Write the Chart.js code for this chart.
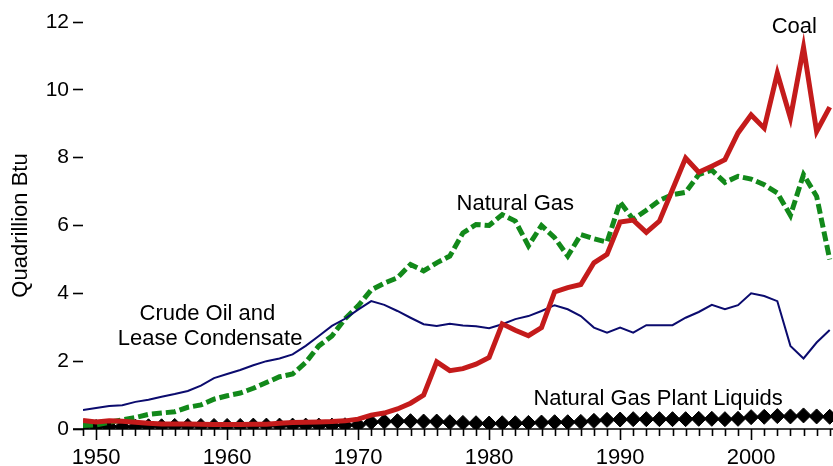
<!DOCTYPE html>
<html>
<head>
<meta charset="utf-8">
<script src="https://cdn.jsdelivr.net/npm/chart.js@4.4.0/dist/chart.umd.min.js"></script>
<style>
  html, body { margin: 0; padding: 0; background: #fff; }
</style>
</head>
<body>
<canvas id="chart" width="833" height="466"></canvas>
<script>
// years on the x axis
const years = [1949, 1950, 1951, 1952, 1953, 1954, 1955, 1956, 1957, 1958, 1959,
  1960, 1961, 1962, 1963, 1964, 1965, 1966, 1967, 1968, 1969,
  1970, 1971, 1972, 1973, 1974, 1975, 1976, 1977, 1978, 1979,
  1980, 1981, 1982, 1983, 1984, 1985, 1986, 1987, 1988, 1989,
  1990, 1991, 1992, 1993, 1994, 1995, 1996, 1997, 1998, 1999,
  2000, 2001, 2002, 2003, 2004, 2005, 2006];

// production, quadrillion Btu
const coal = [0.25, 0.21, 0.24, 0.23, 0.20, 0.17, 0.15, 0.15, 0.15, 0.14, 0.13,
  0.13, 0.13, 0.14, 0.14, 0.17, 0.19, 0.20, 0.21, 0.22, 0.24,
  0.29, 0.41, 0.47, 0.59, 0.76, 1.00, 1.98, 1.72, 1.78, 1.91,
  2.11, 3.10, 2.91, 2.75, 2.99, 4.04, 4.17, 4.26, 4.90, 5.15,
  6.10, 6.16, 5.80, 6.13, 7.06, 7.99, 7.57, 7.75, 7.94, 8.73,
  9.26, 8.87, 10.49, 9.17, 11.25, 8.77, 9.49];

const naturalGas = [0.10, 0.12, 0.20, 0.27, 0.34, 0.43, 0.47, 0.51, 0.64, 0.71, 0.88,
  0.98, 1.06, 1.20, 1.37, 1.54, 1.62, 1.96, 2.45, 2.74, 3.25,
  3.63, 4.10, 4.30, 4.46, 4.85, 4.66, 4.90, 5.10, 5.78, 6.03,
  6.00, 6.32, 6.13, 5.40, 6.00, 5.64, 5.10, 5.73, 5.61, 5.51,
  6.69, 6.18, 6.45, 6.74, 6.91, 6.98, 7.50, 7.63, 7.27, 7.45,
  7.37, 7.20, 6.96, 6.30, 7.50, 6.86, 5.00];

const crudeOil = [0.56, 0.62, 0.68, 0.70, 0.80, 0.86, 0.95, 1.03, 1.12, 1.28, 1.50,
  1.62, 1.74, 1.88, 2.00, 2.08, 2.20, 2.45, 2.74, 3.04, 3.25,
  3.52, 3.77, 3.66, 3.48, 3.28, 3.09, 3.04, 3.10, 3.05, 3.03,
  2.97, 3.09, 3.24, 3.33, 3.48, 3.65, 3.53, 3.33, 2.99, 2.84,
  2.99, 2.84, 3.06, 3.06, 3.06, 3.28, 3.45, 3.66, 3.53, 3.65,
  4.00, 3.92, 3.77, 2.45, 2.08, 2.55, 2.92];

const plantLiquids = [0.06, 0.06, 0.07, 0.07, 0.07, 0.08, 0.08, 0.09, 0.09, 0.09, 0.09,
  0.09, 0.09, 0.10, 0.10, 0.10, 0.10, 0.10, 0.10, 0.10, 0.11,
  0.12, 0.20, 0.22, 0.23, 0.23, 0.22, 0.22, 0.20, 0.18, 0.17,
  0.16, 0.17, 0.17, 0.18, 0.19, 0.20, 0.20, 0.21, 0.24, 0.27,
  0.28, 0.29, 0.29, 0.29, 0.29, 0.29, 0.30, 0.30, 0.29, 0.30,
  0.35, 0.36, 0.38, 0.37, 0.40, 0.37, 0.36];

const yTicks = [0, 2, 4, 6, 8, 10, 12];

const FONT = "'Liberation Sans', Arial, Helvetica, sans-serif";

const toPoints = (vals) => years.map((yr, i) => ({ x: yr, y: vals[i] }));

// series name labels, placed in data coordinates (text centre x, baseline y)
const seriesLabels = [
  { text: 'Coal', x: 2003.3, y: 11.67 },
  { text: 'Natural Gas', x: 1982.0, y: 6.46 },
  { text: 'Crude Oil and', x: 1958.5, y: 3.21 },
  { text: 'Lease Condensate', x: 1958.7, y: 2.48 },
  { text: 'Natural Gas Plant Liquids', x: 1992.9, y: 0.71 }
];

// draws the bottom axis line, year ticks and the series labels
const decorations = {
  id: 'decorations',
  afterDatasetsDraw(chart) {
    const { ctx, chartArea, scales } = chart;
    const xs = scales.x, ys = scales.y;
    ctx.save();
    ctx.strokeStyle = '#000';
    ctx.lineWidth = 1.6;
    ctx.beginPath();
    ctx.moveTo(chartArea.left - 10, chartArea.bottom);
    ctx.lineTo(chartArea.right, chartArea.bottom);
    ctx.stroke();
    years.forEach((yr) => {
      const px = Math.round(xs.getPixelForValue(yr)) + 0.5;
      const len = yr % 10 === 0 ? 11 : 7;
      ctx.beginPath();
      ctx.moveTo(px, chartArea.bottom);
      ctx.lineTo(px, chartArea.bottom + len);
      ctx.stroke();
    });
    ctx.fillStyle = '#000';
    ctx.font = '22px ' + FONT;
    ctx.textAlign = 'center';
    ctx.textBaseline = 'alphabetic';
    seriesLabels.forEach((l) => {
      ctx.fillText(l.text, xs.getPixelForValue(l.x), ys.getPixelForValue(l.y));
    });
    ctx.restore();
  }
};

new Chart(document.getElementById('chart'), {
  type: 'line',
  data: {
    datasets: [
      {
        label: 'Coal',
        data: toPoints(coal),
        borderColor: '#c41b1b',
        borderWidth: 5,
        pointRadius: 0,
        clip: 0
      },
      {
        label: 'Crude Oil and Lease Condensate',
        data: toPoints(crudeOil),
        borderColor: '#0b0b6e',
        borderWidth: 2,
        pointRadius: 0,
        clip: 0
      },
      {
        label: 'Natural Gas',
        data: toPoints(naturalGas),
        borderColor: '#12891a',
        borderWidth: 5,
        borderDash: [10, 4],
        pointRadius: 0,
        clip: 0
      },
      {
        label: 'Natural Gas Plant Liquids',
        data: toPoints(plantLiquids),
        borderColor: '#000',
        borderWidth: 2,
        pointStyle: 'rectRot',
        pointRadius: 7.5,
        pointBackgroundColor: '#000',
        pointBorderColor: '#000',
        pointBorderWidth: 1,
        clip: 0
      }
    ]
  },
  options: {
    responsive: false,
    animation: false,
    devicePixelRatio: 1,
    layout: { autoPadding: false, padding: { top: 22, right: 0, left: 0, bottom: 0 } },
    elements: { line: { tension: 0 } },
    plugins: {
      legend: { display: false },
      tooltip: { enabled: false }
    },
    scales: {
      x: {
        type: 'linear',
        min: 1949,
        max: 2006.25,
        afterFit: (scale) => {
          scale.height = 37;
          scale.paddingLeft = 0;
          scale.paddingRight = 0;
        },
        border: { display: false },
        grid: {
          drawOnChartArea: false,
          drawTicks: true,
          tickLength: 11,
          color: 'rgba(0,0,0,0)'
        },
        ticks: {
          stepSize: 1,
          autoSkip: false,
          maxRotation: 0,
          padding: 5,
          color: '#000',
          font: { family: FONT, size: 22 },
          callback: (v) => (v % 10 === 0 ? String(v) : '')
        }
      },
      y: {
        min: 0,
        max: 12,
        afterFit: (scale) => {
          scale.width = 83;
          scale.paddingTop = 0;
          scale.paddingBottom = 0;
        },
        afterBuildTicks: (scale) => { scale.ticks = yTicks.map((v) => ({ value: v })); },
        border: { display: false },
        grid: {
          drawOnChartArea: false,
          drawTicks: true,
          tickLength: 10,
          tickWidth: 1.6,
          tickColor: '#000'
        },
        ticks: {
          padding: 4,
          color: '#000',
          font: { family: FONT, size: 21 },
          callback: (v) => String(v)
        },
        title: {
          display: true,
          text: 'Quadrillion Btu',
          color: '#000',
          font: { family: FONT, size: 22 },
          padding: { top: 8, bottom: 0 }
        }
      }
    }
  },
  plugins: [decorations]
});
</script>
</body>
</html>
